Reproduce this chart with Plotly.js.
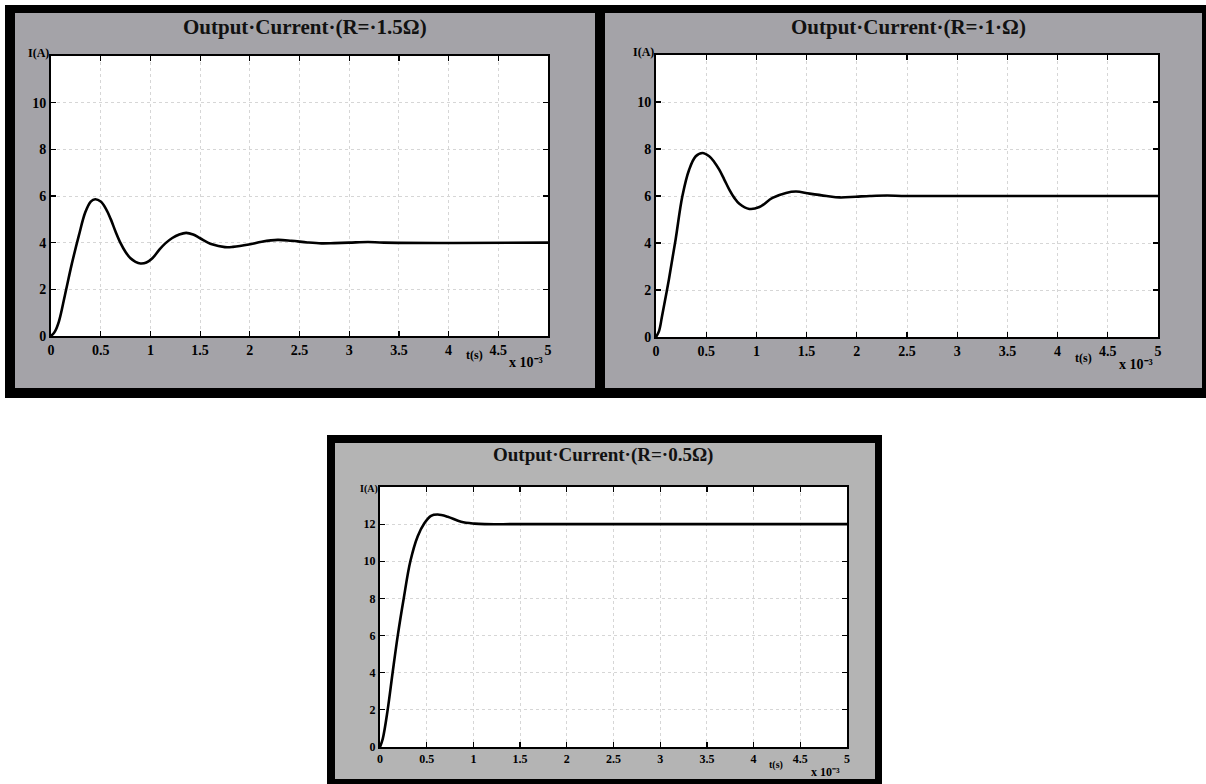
<!DOCTYPE html>
<html><head><meta charset="utf-8">
<script src="https://cdn.plot.ly/plotly-3.0.1.min.js"></script>
<style>html,body{margin:0;padding:0;background:#fff;}#chart{width:1206px;height:784px;}</style>
</head><body><div id="chart"></div>
<script>
// ---- data (t in ms, i.e. x 10^-3 s; current in A) ----
const titles = ["Output·Current·(R=·1.5Ω)", "Output·Current·(R=·1·Ω)", "Output·Current·(R=·0.5Ω)"];
const xTickVals = [0, 0.5, 1, 1.5, 2, 2.5, 3, 3.5, 4, 4.5, 5];
const xTickText = ["0", "0.5", "1", "1.5", "2", "2.5", "3", "3.5", "4", "4.5", "5"];
const yTickVals12 = [0, 2, 4, 6, 8, 10];
const yTickVals14 = [0, 2, 4, 6, 8, 10, 12];
const yLabel = "I(A)";
const xLabel = "t(s)";
const xMult = "x 10⁻³";

const t1 = [0, 0.04, 0.08, 0.14, 0.21, 0.28, 0.345, 0.40, 0.445, 0.50, 0.55, 0.60, 0.65, 0.70, 0.75, 0.80, 0.85, 0.90, 0.96, 1.02, 1.09, 1.15, 1.22, 1.29, 1.36, 1.43, 1.50, 1.62, 1.75, 1.83, 1.99, 2.12, 2.28, 2.42, 2.58, 2.72, 2.85, 3.0, 3.19, 3.35, 5.0];
const I1 = [0, 0.2, 0.63, 1.75, 3.1, 4.3, 5.3, 5.76, 5.86, 5.76, 5.47, 5.02, 4.47, 3.98, 3.6, 3.33, 3.18, 3.11, 3.15, 3.33, 3.7, 3.97, 4.2, 4.35, 4.42, 4.35, 4.19, 3.93, 3.81, 3.82, 3.92, 4.04, 4.12, 4.08, 4.01, 3.97, 3.98, 4.0, 4.03, 4.0, 4.0];

const t2 = [0, 0.03, 0.06, 0.128, 0.195, 0.262, 0.33, 0.396, 0.463, 0.53, 0.58, 0.63, 0.68, 0.73, 0.78, 0.83, 0.93, 1.03, 1.16, 1.295, 1.395, 1.53, 1.7, 1.83, 1.99, 2.13, 2.3, 2.5, 5.0];
const I2 = [0, 0.25, 0.88, 2.44, 4.14, 5.98, 7.12, 7.69, 7.83, 7.69, 7.45, 7.12, 6.7, 6.27, 5.92, 5.67, 5.45, 5.53, 5.92, 6.13, 6.19, 6.10, 6.0, 5.94, 5.97, 6.0, 6.02, 6.0, 6.0];

const t3 = [0, 0.03, 0.082, 0.135, 0.19, 0.254, 0.325, 0.404, 0.475, 0.546, 0.618, 0.725, 0.868, 1.01, 1.12, 1.5, 5.0];
const I3 = [0, 0.45, 2.0, 4.0, 6.0, 8.0, 10.0, 11.35, 12.05, 12.45, 12.52, 12.4, 12.13, 12.03, 12.0, 12.0, 12.0];

// ---- layout geometry (pixels) ----
const W = 1206, H = 784;
const px = x => x / W, py = y => 1 - y / H;
const panels = [
  {frame:[5,5,599,398], grey:[15,13,595,388], plot:[51,56,548,336], title:[305,27], ylab:[51,53], tlab:[474,355], mult:[526,362], yr:[0,12], yt:yTickVals12, bg:"#a4a3a8", tsize:21, fsize:14},
  {frame:[597,5,1206,398], grey:[605,13,1202,388], plot:[656,55,1158,337], title:[908,27], ylab:[656,52], tlab:[1083,358], mult:[1136,364], yr:[0,12], yt:yTickVals12, bg:"#a4a3a8", tsize:21, fsize:14},
  {frame:[327,435,882,790], grey:[335,443,875,779], plot:[380,487,847,747], title:[603,455], ylab:[380,489], tlab:[776,765], mult:[825,772], yr:[0,14], yt:yTickVals14, bg:"#b4b4b4", tsize:19, fsize:12}
];
const series = [[t1, I1], [t2, I2], [t3, I3]];
const FONT = "Liberation Serif, Times New Roman, serif";

const data = [];
const shapes = [];
const annotations = [];
const layout = {
  width: W, height: H, margin: {l:0, r:0, t:0, b:0},
  paper_bgcolor: "#ffffff", plot_bgcolor: "rgba(0,0,0,0)",
  showlegend: false, shapes: shapes, annotations: annotations
};

panels.forEach((p, k) => {
  const n = k + 1;
  const xa = "xaxis" + (n === 1 ? "" : n), ya = "yaxis" + (n === 1 ? "" : n);
  const xr = "x" + (n === 1 ? "" : n), yr = "y" + (n === 1 ? "" : n);
  shapes.push({type:"rect", xref:"paper", yref:"paper", layer:"below",
    x0:px(p.frame[0]), x1:px(p.frame[2]), y0:py(p.frame[3]), y1:py(p.frame[1]),
    fillcolor:"#000000", line:{width:0}});
  shapes.push({type:"rect", xref:"paper", yref:"paper", layer:"below",
    x0:px(p.grey[0]), x1:px(p.grey[2]), y0:py(p.grey[3]), y1:py(p.grey[1]),
    fillcolor:p.bg, line:{width:0}});
  shapes.push({type:"rect", xref:"paper", yref:"paper", layer:"below",
    x0:px(p.plot[0]), x1:px(p.plot[2]), y0:py(p.plot[3]), y1:py(p.plot[1]),
    fillcolor:"#ffffff", line:{width:0}});

  const common = {
    ticks:"inside", ticklen:5, tickwidth:1.2, tickcolor:"#000",
    showline:true, linecolor:"#000", linewidth:2, mirror:"ticks",
    showgrid:true, gridcolor:"#d6d6d6", griddash:"dot", gridwidth:1, zeroline:false,
    tickfont:{family:FONT, size:p.fsize, color:"#000", weight:"bold"}, fixedrange:true
  };
  layout[xa] = Object.assign({domain:[px(p.plot[0]), px(p.plot[2])], anchor:yr, range:[0,5],
    tickvals:xTickVals, ticktext:xTickText}, common);
  layout[ya] = Object.assign({domain:[py(p.plot[3]), py(p.plot[1])], anchor:xr, range:p.yr,
    tickvals:p.yt}, common);
  data.push({type:"scatter", mode:"lines", x:series[k][0], y:series[k][1], xaxis:xr, yaxis:yr,
    line:{color:"#000000", width:2.6, shape:"spline", smoothing:1}, hoverinfo:"skip"});

  annotations.push({xref:"paper", yref:"paper", x:px(p.title[0]), y:py(p.title[1]), xanchor:"center", yanchor:"middle",
    text:titles[k], showarrow:false, font:{family:FONT, size:p.tsize, color:"#111", weight:"bold"}});
  annotations.push({xref:"paper", yref:"paper", x:px(p.ylab[0]), y:py(p.ylab[1]), xanchor:"right", yanchor:"middle",
    text:yLabel, showarrow:false, font:{family:FONT, size:p.fsize - 2, color:"#000", weight:"bold"}});
  annotations.push({xref:"paper", yref:"paper", x:px(p.tlab[0]), y:py(p.tlab[1]), xanchor:"center", yanchor:"middle",
    text:xLabel, showarrow:false, font:{family:FONT, size:p.fsize - 2, color:"#000", weight:"bold"}});
  annotations.push({xref:"paper", yref:"paper", x:px(p.mult[0]), y:py(p.mult[1]), xanchor:"center", yanchor:"middle",
    text:xMult, showarrow:false, font:{family:FONT, size:p.fsize, color:"#000", weight:"bold"}});
});

Plotly.newPlot("chart", data, layout, {staticPlot:true, displayModeBar:false});
</script>
</body></html>
